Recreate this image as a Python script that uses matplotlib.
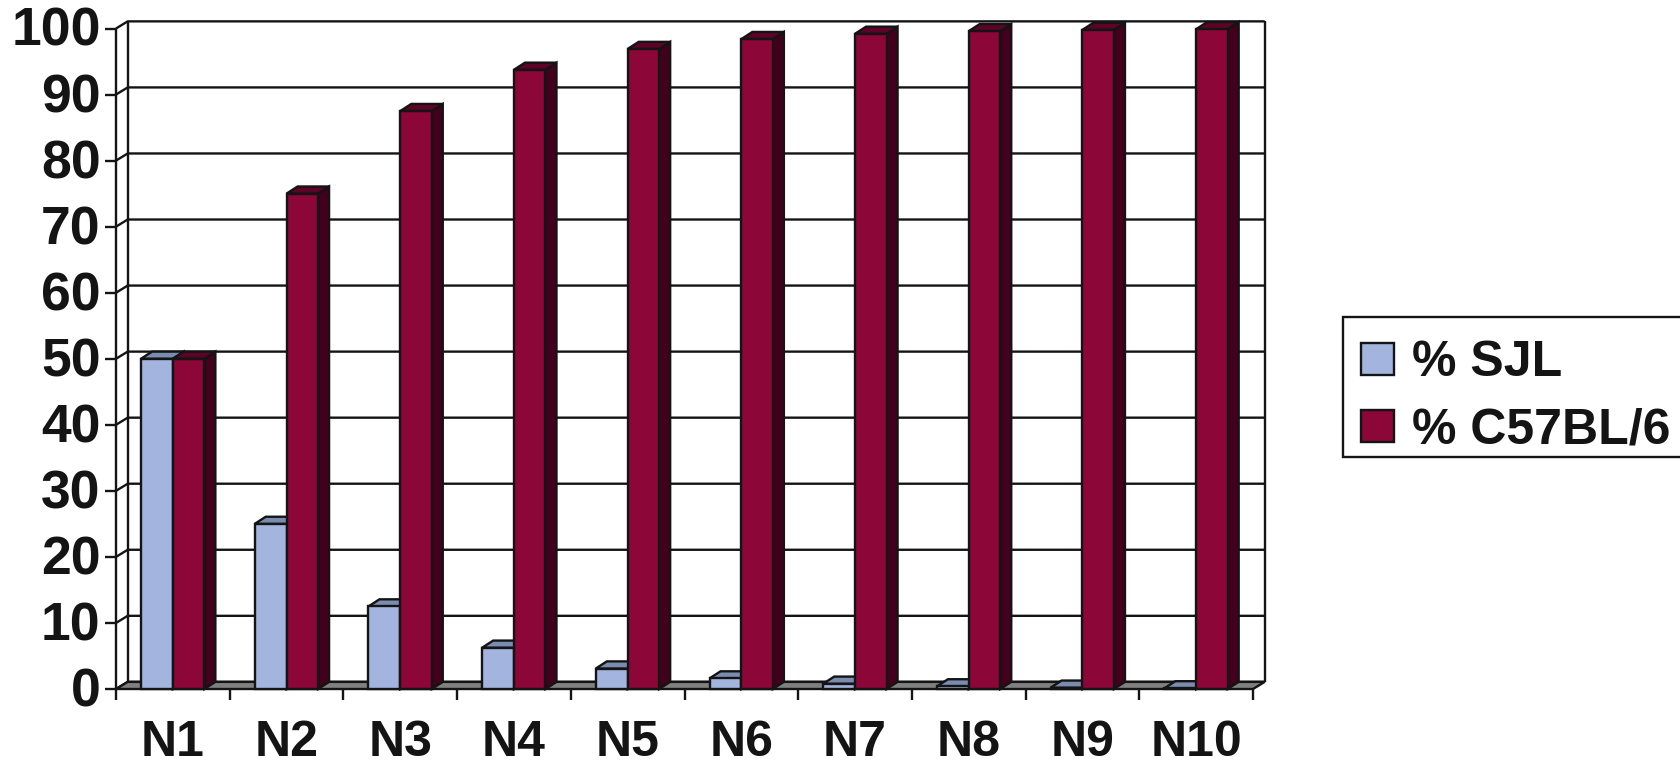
import matplotlib
matplotlib.use("Agg")
import matplotlib.pyplot as plt
from matplotlib.patches import Patch, Rectangle
from matplotlib.transforms import ScaledTranslation

plt.rcParams['font.family'] = ['Liberation Sans', 'DejaVu Sans']
plt.rcParams['font.weight'] = 'bold'

# percent of each background per backcross generation
generations = ["N1", "N2", "N3", "N4", "N5", "N6", "N7", "N8", "N9", "N10"]
pct_sjl = [50, 25, 12.5, 6.25, 3.1, 1.6, 0.8, 0.4, 0.2, 0.1]
pct_b6 = [50, 75, 87.5, 93.75, 96.9, 98.4, 99.2, 99.6, 99.8, 99.9]
y_ticks = [0, 10, 20, 30, 40, 50, 60, 70, 80, 90, 100]

W, H = 1681, 762
INK = "#141414"
BLUE = ("#A3B5DF", "#7B8CB2", "#66759A")
RED = ("#8C0637", "#5E0327", "#43001D")
FLOOR = "#808080"
LW = 1.7

# fake 3d depth, in data units
DX = 0.103
BAR_DX = 0.097
DY = 1.08
BLUE_W = 0.28
RED_W = 0.277

fig = plt.figure(figsize=(W / 100, H / 100), dpi=100, facecolor="white")
ax = fig.add_axes([116 / W, 1 - 689 / H, (1253 - 116) / W, (689 - 28.5) / H])
ax.set_xlim(0, 10)
ax.set_ylim(0, 100)
for s in ax.spines.values():
    s.set_visible(False)
ax.patch.set_visible(False)


def poly(xs, ys, color, z):
    ax.fill(xs, ys, facecolor=color, edgecolor=INK, linewidth=LW, clip_on=False,
            zorder=z, joinstyle="miter")


def line(xs, ys, z=1):
    ax.plot(xs, ys, color=INK, linewidth=LW, clip_on=False, zorder=z,
            solid_capstyle="butt")


def bar3d(x, v, w, colors, z):
    front, top, side = colors
    poly([x + w, x + w + BAR_DX, x + w + BAR_DX, x + w],
         [0, DY, v + DY, v], side, z)
    poly([x, x + BAR_DX, x + w + BAR_DX, x + w], [v, v + DY, v + DY, v], top, z)
    ax.bar(x, v, w, align="edge", color=front, edgecolor=INK, linewidth=LW,
           clip_on=False, zorder=z)


# walls and grid
for t in y_ticks:
    line([0, DX, 10 + DX], [t, t + DY, t + DY])
line([0, 0], [0, 100])
line([DX, DX], [DY, 100 + DY])
line([10 + DX, 10 + DX], [DY, 100 + DY])
poly([0, DX, 10 + DX, 10], [0, DY, DY, 0], FLOOR, 2)

for i, g in enumerate(generations):
    z = 3 + i * 2
    bar3d(i + 0.5 - BLUE_W, pct_sjl[i], BLUE_W, BLUE, z)
    bar3d(i + 0.5, pct_b6[i], RED_W, RED, z + 1)

ax.set_yticks(y_ticks)
ax.set_xticks(range(11))
ax.set_xticklabels([])
ax.set_xticks([i + 0.5 for i in range(10)], generations, minor=True)
ax.tick_params(axis="both", which="major", length=8, width=LW, color=INK)
ax.tick_params(axis="x", which="minor", length=0, pad=22.5)
ax.tick_params(axis="y", which="major", pad=3, labelsize=38.5, labelcolor=INK)
ax.tick_params(axis="x", which="minor", labelsize=36, labelcolor=INK)

# nudge the value labels up a little
nudge = ScaledTranslation(0, 2 / 100, fig.dpi_scale_trans)
for lbl in ax.get_yticklabels():
    lbl.set_transform(lbl.get_transform() + nudge)

# legend box runs off the right edge of the figure
fig.add_artist(Rectangle((1343 / W, 1 - 457 / H), 400 / W, 140 / H, transform=fig.transFigure,
                         facecolor="white", edgecolor=INK, linewidth=LW, clip_on=True))
handles = [Patch(facecolor=BLUE[0], edgecolor=INK, linewidth=LW, label="% SJL"),
           Patch(facecolor=RED[0], edgecolor=INK, linewidth=LW, label="% C57BL/6")]
leg = fig.legend(handles=handles, loc="lower left",
                 bbox_to_anchor=(1349.5 / W, 1 - 465 / H), prop={"size": 36, "weight": "bold"},
                 frameon=False, handlelength=0.66, handleheight=0.6, handletextpad=0.37,
                 labelspacing=0.42, borderpad=0.23, borderaxespad=0, labelcolor=INK)

fig.savefig("out.png", dpi=100)
